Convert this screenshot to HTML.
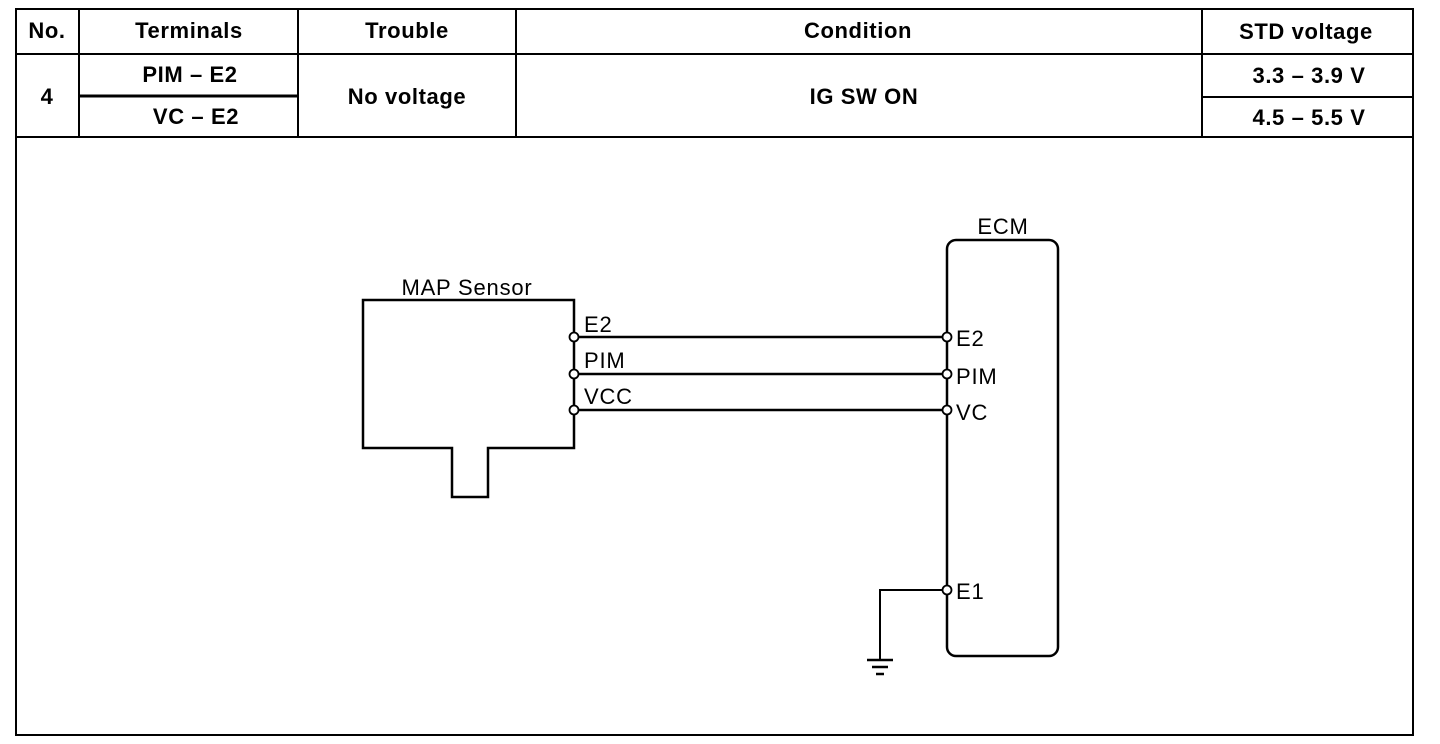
<!DOCTYPE html>
<html><head><meta charset="utf-8"><style>
html,body{margin:0;padding:0;background:#fff;}
svg{display:block;}
.b{font-family:"Liberation Sans",Arial,sans-serif;font-weight:bold;font-size:22px;letter-spacing:0.6px;fill:#000;}
.n{font-family:"Liberation Sans",Arial,sans-serif;font-size:22px;letter-spacing:0.8px;fill:#000;}
</style></head><body>
<svg width="1440" height="744" viewBox="0 0 1440 744" xmlns="http://www.w3.org/2000/svg">
<g stroke="#000" stroke-width="2" fill="none">
<rect x="16" y="9" width="1397" height="726"/>
<line x1="16" y1="54" x2="1413" y2="54"/>
<line x1="16" y1="137" x2="1413" y2="137"/>
<line x1="79" y1="9" x2="79" y2="137"/>
<line x1="298" y1="9" x2="298" y2="137"/>
<line x1="516" y1="9" x2="516" y2="137"/>
<line x1="1202" y1="9" x2="1202" y2="137"/>
<line x1="79" y1="96" x2="298" y2="96" stroke-width="3"/>
<line x1="1202" y1="97" x2="1413" y2="97"/>
<path d="M363,300 H574 V448 H488 V497 H452 V448 H363 Z" stroke-width="2.5"/>
<rect x="947" y="240" width="111" height="416" rx="9" stroke-width="2.5"/>
<line x1="578" y1="337" x2="943" y2="337" stroke-width="2.5"/>
<line x1="578" y1="374" x2="943" y2="374" stroke-width="2.5"/>
<line x1="578" y1="410" x2="943" y2="410" stroke-width="2.5"/>
<path d="M943,590 H880 V660" stroke-width="2"/>
<line x1="867" y1="660" x2="893" y2="660" stroke-width="2.5"/>
<line x1="872" y1="667" x2="888" y2="667" stroke-width="2.5"/>
<line x1="876" y1="674" x2="884" y2="674" stroke-width="2.5"/>
</g>
<g stroke="#000" stroke-width="1.8" fill="#fff">
<circle cx="574" cy="337" r="4.5"/><circle cx="574" cy="374" r="4.5"/><circle cx="574" cy="410" r="4.5"/>
<circle cx="947" cy="337" r="4.5"/><circle cx="947" cy="374" r="4.5"/><circle cx="947" cy="410" r="4.5"/><circle cx="947" cy="590" r="4.5"/>
</g>
<text class="b" x="47" y="38" text-anchor="middle">No.</text>
<text class="b" x="189" y="38" text-anchor="middle">Terminals</text>
<text class="b" x="407" y="38" text-anchor="middle">Trouble</text>
<text class="b" x="858" y="38" text-anchor="middle">Condition</text>
<text class="b" x="1306" y="39" text-anchor="middle">STD voltage</text>
<text class="b" x="47" y="104" text-anchor="middle">4</text>
<text class="b" x="190" y="82" text-anchor="middle">PIM – E2</text>
<text class="b" x="196" y="124" text-anchor="middle">VC – E2</text>
<text class="b" x="407" y="104" text-anchor="middle">No voltage</text>
<text class="b" x="864" y="104" text-anchor="middle">IG SW ON</text>
<text class="b" x="1309" y="83" text-anchor="middle">3.3 – 3.9 V</text>
<text class="b" x="1309" y="125" text-anchor="middle">4.5 – 5.5 V</text>
<text class="n" x="467" y="295" text-anchor="middle">MAP Sensor</text>
<text class="n" x="1003" y="234" text-anchor="middle">ECM</text>
<text class="n" x="584" y="332">E2</text>
<text class="n" x="584" y="368">PIM</text>
<text class="n" x="584" y="404">VCC</text>
<text class="n" x="956" y="346">E2</text>
<text class="n" x="956" y="384">PIM</text>
<text class="n" x="956" y="420">VC</text>
<text class="n" x="956" y="599">E1</text>
</svg>
</body></html>
